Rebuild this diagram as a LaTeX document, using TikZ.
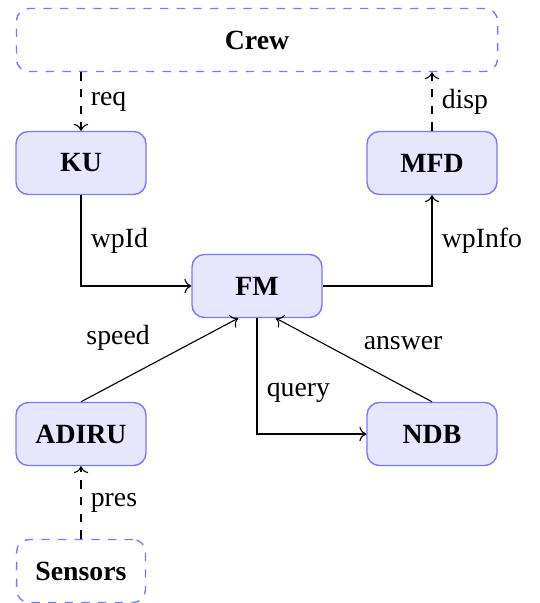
\documentclass[tikz,border=0pt]{standalone}
\usepackage{fontspec}
\setmainfont{Liberation Serif}
\usetikzlibrary{arrows.meta}
\definecolor{boxfill}{RGB}{230,230,255}
\definecolor{boxline}{RGB}{120,120,255}
\begin{document}
\begin{tikzpicture}[x=0.36pt,y=-0.36pt,
  compbox/.style={draw=boxline,fill=boxfill,rounded corners=4.5pt,minimum width=46.8pt,minimum height=22.7pt,font=\bfseries,line width=0.5pt},
  extbox/.style={draw=boxline,dashed,rounded corners=4.5pt,minimum height=22.7pt,font=\bfseries,line width=0.5pt},
  flow/.style={->,line width=0.4pt},
  lbl/.style={font=\normalsize}]
\useasboundingbox (0,0) rectangle (540,603);
\node[extbox,minimum width=173.2pt] (crew) at (257,40) {Crew};
\node[compbox] (ku) at (81,163) {KU};
\node[compbox] (mfd) at (432,163) {MFD};
\node[compbox] (fm) at (257,286) {FM};
\node[compbox] (adiru) at (81,434) {ADIRU};
\node[compbox] (ndb) at (432,434) {NDB};
\node[extbox,minimum width=46.4pt] (sens) at (81,571) {Sensors};
\draw[flow,dashed] (crew.south -| ku.north) -- node[right,lbl] {req} (ku.north);
\draw[flow,dashed] (mfd.north) -- node[right,lbl] {disp} (crew.south -| mfd.north);
\draw[flow] (ku.south) |- node[right,lbl,pos=0.25] {wpId} (fm.west);
\draw[flow] (fm.east) -| node[right,lbl,pos=0.75] {wpInfo} (mfd.south);
\draw[flow] (adiru.north) -- node[above left,lbl] {speed} ([xshift=-6.8pt]fm.south);
\draw[flow] (ndb.north) -- node[above right,lbl] {answer} ([xshift=6.8pt]fm.south);
\draw[flow] (fm.south) |- node[right,lbl,pos=0.32] {query} (ndb.west);
\draw[flow,dashed] (sens.north) -- node[right,lbl] {pres} (adiru.south);
\end{tikzpicture}
\end{document}
